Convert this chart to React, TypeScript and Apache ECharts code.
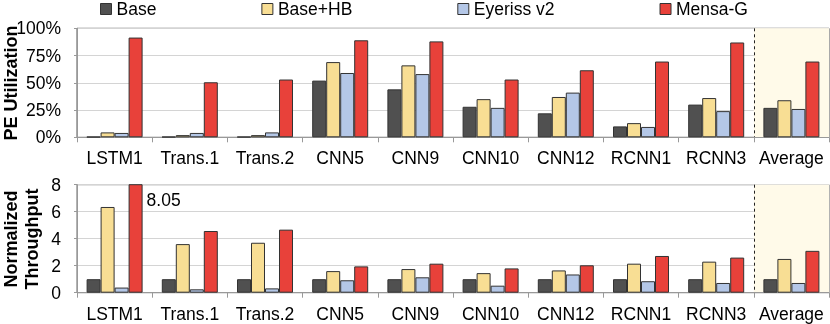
import React, { useEffect, useRef } from "react";
import * as echarts from "echarts";

const categories = ["LSTM1", "Trans.1", "Trans.2", "CNN5", "CNN9", "CNN10", "CNN12", "RCNN1", "RCNN3", "Average"];
const seriesNames = ["Base", "Base+HB", "Eyeriss v2", "Mensa-G"];

const utilBase = [0.5, 0.5, 0.5, 52, 44, 28, 22, 10, 30, 27];
const utilHB = [4.5, 2, 2, 69, 66, 35, 37, 13, 36, 34];
const utilEyeriss = [4, 4, 4.5, 59, 58, 27, 41, 9.5, 24, 26];
const utilMensa = [91.5, 50.5, 53, 89, 88, 53, 61.5, 69.5, 87, 69.5];

const tpBase = [1, 1, 1, 1, 1, 1, 1, 1, 1, 1];
const tpHB = [6.35, 3.6, 3.7, 1.6, 1.75, 1.45, 1.65, 2.15, 2.3, 2.5];
const tpEyeriss = [0.38, 0.25, 0.32, 0.92, 1.14, 0.52, 1.35, 0.85, 0.72, 0.72];
const tpMensa = [8.05, 4.57, 4.67, 1.95, 2.15, 1.8, 2.03, 2.72, 2.6, 3.1];

const utilTicks = [0, 25, 50, 75, 100];
const tpTicks = [0, 2, 4, 6, 8];

const colors = ["#505050", "#F8DE94", "#B4C7E7", "#E8413A"];
const FONT = "'Liberation Sans', Arial, sans-serif";

export default function App() {
  const ref = useRef<HTMLDivElement>(null);
  useEffect(() => {
    if (!ref.current) return;
    const chart = echarts.init(ref.current, undefined, { renderer: "svg" });
    const areaColors = categories.map((c) => (c === "Average" ? "#FFFAE9" : "rgba(0,0,0,0)"));
    const lineColors = [...categories, "end"].map((_, i) => (i === categories.length - 1 ? "#222" : "rgba(0,0,0,0)"));

    const xAxisCommon = (gridIndex: number) => ({
      type: "category",
      gridIndex,
      data: categories,
      axisLine: { show: true, lineStyle: { color: "#999", width: 1 } },
      axisTick: { show: true, length: 5, lineStyle: { color: "#999" } },
      axisLabel: { color: "#000", fontSize: 17.5, fontFamily: FONT, margin: 12, interval: 0 },
      splitArea: { show: true, areaStyle: { color: areaColors } },
      splitLine: { show: true, lineStyle: { color: lineColors, type: [3, 3], width: 1 } },
    });

    const yAxisCommon = (gridIndex: number, ticks: number[], fmt: (v: number) => string) => ({
      type: "value",
      gridIndex,
      min: ticks[0],
      max: ticks[ticks.length - 1],
      interval: ticks[1] - ticks[0],
      axisLine: { show: true, lineStyle: { color: "#999" } },
      axisTick: { show: true, length: 3, lineStyle: { color: "#999" } },
      axisLabel: { color: "#000", fontSize: 17.5, fontFamily: FONT, margin: 16, formatter: fmt },
      splitLine: { show: true, lineStyle: { color: "#d4d4d4", width: 1 } },
    });

    const barCommon = {
      type: "bar",
      barWidth: 14,
      barGap: "0%",
      clip: true,
      itemStyle: { borderColor: "#333", borderWidth: 1 },
    };

    const topData = [utilBase, utilHB, utilEyeriss, utilMensa];
    const botData = [tpBase, tpHB, tpEyeriss, tpMensa];

    const series: any[] = [];
    seriesNames.forEach((name, i) => {
      series.push({
        ...barCommon,
        name,
        xAxisIndex: 0,
        yAxisIndex: 0,
        data: topData[i],
        itemStyle: { ...barCommon.itemStyle, color: colors[i] },
      });
    });
    seriesNames.forEach((name, i) => {
      const data: any[] = botData[i].map((v) => {
        if (i === 3 && v > tpTicks[tpTicks.length - 1]) {
          return {
            value: v,
            label: {
              show: true,
              position: [18, 7],
              formatter: String(v),
              color: "#000",
              fontSize: 17.5,
              fontFamily: FONT,
            },
          };
        }
        return v;
      });
      series.push({
        ...barCommon,
        name,
        xAxisIndex: 1,
        yAxisIndex: 1,
        data,
        itemStyle: { ...barCommon.itemStyle, color: colors[i] },
      });
    });

    chart.setOption({
      animation: false,
      textStyle: { fontFamily: FONT },
      legend: {
        data: seriesNames.map((n) => ({ name: n, icon: "rect" })),
        left: 100,
        top: 0,
        padding: 0,
        itemWidth: 11,
        itemHeight: 11,
        itemGap: 105,
        itemStyle: { borderColor: "#333", borderWidth: 1 },
        textStyle: { color: "#000", fontSize: 17.5, fontFamily: FONT },
      },
      grid: [
        { left: 77, right: 1, top: 28.3, height: 109, show: true, borderColor: "#555", borderWidth: 1, backgroundColor: "transparent" },
        { left: 77, right: 1, top: 184.7, height: 108, show: true, borderColor: "#666", borderWidth: 1, backgroundColor: "transparent" },
      ],
      xAxis: [xAxisCommon(0), xAxisCommon(1)],
      yAxis: [
        yAxisCommon(0, utilTicks, (v: number) => `${v}%`),
        yAxisCommon(1, tpTicks, (v: number) => `${v}`),
      ],
      graphic: [
        {
          type: "text",
          x: 10.5,
          y: 83,
          rotation: Math.PI / 2,
          style: {
            text: "PE Utilization",
            align: "center",
            verticalAlign: "middle",
            font: `bold 18px ${FONT}`,
            fill: "#000",
          },
        },
        {
          type: "text",
          x: 21,
          y: 239,
          rotation: Math.PI / 2,
          style: {
            text: "Normalized\nThroughput",
            align: "center",
            verticalAlign: "middle",
            lineHeight: 21,
            font: `bold 18px ${FONT}`,
            fill: "#000",
          },
        },
      ],
      series,
    });
    return () => chart.dispose();
  }, []);
  return <div ref={ref} style={{ position: "fixed", left: 0, top: 0, width: 830, height: 324 }} />;
}
